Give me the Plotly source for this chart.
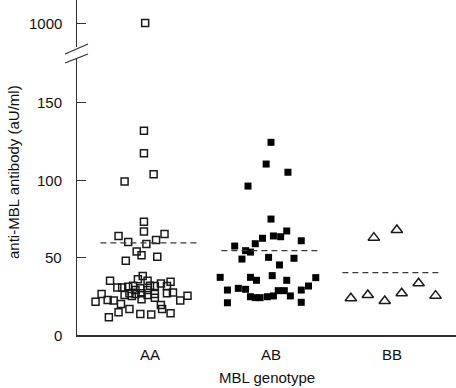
import plotly.graph_objects as go

# ---- data ----
categories = ["AA", "AB", "BB"]
cat_pos = [0, 1, 2]

aa_offset = [-0.04, -0.05, -0.05, 0.03, -0.21, -0.05, -0.05,
             -0.26, -0.18, -0.03, 0.05, 0.12, -0.11, -0.07, -0.20, 0.06,
             -0.33, -0.06, -0.10, -0.02, 0.09, 0.17,
             -0.27, -0.23, -0.18, -0.14, -0.08, 0.00, 0.04, 0.14,
             -0.40, -0.17, -0.12, -0.07, -0.02, 0.04, 0.14, 0.19, 0.31,
             -0.45, -0.35, -0.30, -0.24, -0.15, 0.25, 0.09,
             0.10, -0.17, -0.26, -0.34, -0.08, 0.01, 0.17,
             -0.12, -0.02, -0.21, 0.04, -0.07]
aa_values = [1000, 131.8, 117.2, 103.7, 99.1, 73.0, 66.7,
             63.9, 60.0, 58.7, 61.3, 65.2, 53.8, 51.4, 47.9, 50.5,
             35.0, 38.0, 36.0, 35.0, 33.3, 34.4,
             30.6, 30.6, 31.2, 31.8, 30.1, 31.8, 31.6, 31.6,
             26.5, 26.9, 26.5, 26.9, 25.8, 26.5, 26.9, 27.5, 25.4,
             21.5, 22.6, 22.2, 20.0, 25.2, 22.2, 19.4,
             16.8, 16.8, 14.6, 11.4, 13.5, 13.3, 14.0,
             29.0, 29.0, 25.8, 24.1, 23.0]

ab_offset = [0.00, -0.04, 0.14, -0.19,
             0.00, 0.02, 0.08, 0.13, -0.07, -0.13, -0.30, 0.25, -0.21, -0.17, -0.24, -0.02, 0.07, 0.19,
             -0.42, -0.17, -0.12, 0.01, 0.13, 0.37,
             -0.36, -0.27, -0.21, -0.17, -0.13, -0.09, -0.03, 0.02, 0.06, 0.11, 0.16, 0.25, 0.31,
             -0.36, 0.25]
ab_values = [124.3, 110.3, 105.0, 96.1,
             74.8, 63.9, 63.4, 67.1, 62.4, 58.9, 57.4, 60.8, 54.4, 53.5, 49.0, 50.1, 45.2, 49.5,
             37.2, 37.2, 35.3, 38.3, 35.3, 37.0,
             29.0, 30.1, 29.5, 24.7, 24.1, 24.1, 24.7, 25.2, 28.6, 28.6, 25.2, 29.0, 31.6,
             20.8, 21.1]

bb_offset = [-0.34, -0.20, -0.06, 0.08, 0.22, 0.36, -0.15, 0.04]
bb_values = [23.7, 25.8, 21.9, 26.9, 33.4, 25.4, 62.8, 67.7]

medians = [59.5, 54.4, 40.2]

lower_ticks = [0, 50, 100, 150]
upper_ticks = [1000]

# ---- layout constants (pixels) ----
W, H = 456, 388
ML, MR, MT, MB = 77, 0, 0, 53
PW, PH = W - ML - MR, H - MT - MB
PX_PER_UNIT = 1.55
LOWER_TOP = 58      # pixel (from top of plot) where lower panel starts
UPPER_BOTTOM = 47   # pixel where upper panel ends
BREAK_VAL = 1000
BREAK_PIX = 23
TICK_LEN = 9
LABEL_RIGHT = 64    # pixel x where y tick labels end

lower_dom = [0, (PH - LOWER_TOP) / PH]
upper_dom = [(PH - UPPER_BOTTOM) / PH, 1]
lower_range = [0, (PH - LOWER_TOP) / PX_PER_UNIT]
u_top = BREAK_VAL + BREAK_PIX / PX_PER_UNIT
upper_range = [u_top - UPPER_BOTTOM / PX_PER_UNIT, u_top]

X_PER_CAT = 121.0
x_range = [-(150 - ML) / X_PER_CAT, (W - 150) / X_PER_CAT]

FONT = "Liberation Sans, Arial, Helvetica, sans-serif"
INK = "#1a1a1a"
TXT = "#111111"
AXC = "#333333"


def split(offsets, values, base):
    lo_x, lo_y, hi_x, hi_y = [], [], [], []
    for o, v in zip(offsets, values):
        if v > lower_range[1]:
            hi_x.append(base + o); hi_y.append(v)
        else:
            lo_x.append(base + o); lo_y.append(v)
    return lo_x, lo_y, hi_x, hi_y


fig = go.Figure()

styles = [
    dict(symbol="square-open", size=7, color=INK, line=dict(width=1.5, color=INK)),
    dict(symbol="square", size=7, color="#000000", line=dict(width=0)),
    dict(symbol="triangle-up-open", size=10, color=INK, line=dict(width=1.5, color=INK)),
]

for (off, vals), base, st in zip([(aa_offset, aa_values), (ab_offset, ab_values), (bb_offset, bb_values)],
                                 cat_pos, styles):
    lo_x, lo_y, hi_x, hi_y = split(off, vals, base)
    fig.add_trace(go.Scatter(x=lo_x, y=lo_y, mode="markers", marker=st,
                             xaxis="x", yaxis="y", showlegend=False, hoverinfo="y"))
    if hi_x:
        fig.add_trace(go.Scatter(x=hi_x, y=hi_y, mode="markers", marker=st,
                                 xaxis="x", yaxis="y2", showlegend=False, hoverinfo="y"))

# median dashed lines
for base, m in zip(cat_pos, medians):
    fig.add_trace(go.Scatter(x=[base - 0.41, base + 0.41], y=[m, m], mode="lines",
                             line=dict(color="#3a3a3a", width=1.3, dash="6px,4px"),
                             xaxis="x", yaxis="y", showlegend=False, hoverinfo="skip"))

axis_common = dict(showline=True, linecolor=AXC, linewidth=1.3, showgrid=False,
                   zeroline=False, ticks="inside", ticklen=TICK_LEN, tickwidth=1.2, tickcolor=AXC,
                   showticklabels=False, automargin=False)

annotations = [
    dict(text="anti-MBL antibody (aU/ml)", textangle=-90, xref="paper", yref="paper",
         x=(13 - ML) / PW, y=(PH - 172) / PH, showarrow=False,
         font=dict(family=FONT, size=15, color=TXT), xanchor="center", yanchor="middle"),
    dict(text="MBL genotype", xref="paper", yref="paper",
         x=(267 - ML) / PW, y=(PH - 378) / PH, showarrow=False,
         font=dict(family=FONT, size=15, color=TXT), xanchor="center", yanchor="middle"),
]
# y tick labels, positioned on the axes' own scales
for yref, ticks in (("y", lower_ticks), ("y2", upper_ticks)):
    for v in ticks:
        annotations.append(dict(text=str(v), xref="paper", yref=yref, x=(LABEL_RIGHT - ML) / PW, y=v,
                                showarrow=False, xanchor="right", yanchor="middle",
                                font=dict(family=FONT, size=15, color=TXT)))

fig.update_layout(
    template="none",
    width=W, height=H,
    margin=dict(l=ML, r=MR, t=MT, b=MB, autoexpand=False),
    paper_bgcolor="white", plot_bgcolor="white",
    xaxis=dict(range=x_range, tickvals=cat_pos, ticktext=categories, showline=True,
               linecolor=AXC, linewidth=1.5, ticks="", showgrid=False, zeroline=False,
               tickfont=dict(family=FONT, size=15, color=TXT), ticklabelstandoff=5,
               automargin=False, anchor="y"),
    yaxis=dict(domain=lower_dom, range=lower_range, tickvals=lower_ticks, anchor="x", **axis_common),
    yaxis2=dict(domain=upper_dom, range=upper_range, tickvals=upper_ticks, anchor="x", **axis_common),
    annotations=annotations,
)

# break marks on the y axis
def px_to_paper(px, py):
    return (px - ML) / PW, (PH - py) / PH

for (x0p, y0p, x1p, y1p) in [(65, 54, 88, 44), (65, 63, 88, 54)]:
    x0, y0 = px_to_paper(x0p, y0p)
    x1, y1 = px_to_paper(x1p, y1p)
    fig.add_shape(type="line", xref="paper", yref="paper", x0=x0, y0=y0, x1=x1, y1=y1,
                  line=dict(color=AXC, width=1.3))

fig.write_html("out.html", config={"displayModeBar": False},
               post_script="document.body.style.margin='0';document.body.style.overflow='hidden';")
